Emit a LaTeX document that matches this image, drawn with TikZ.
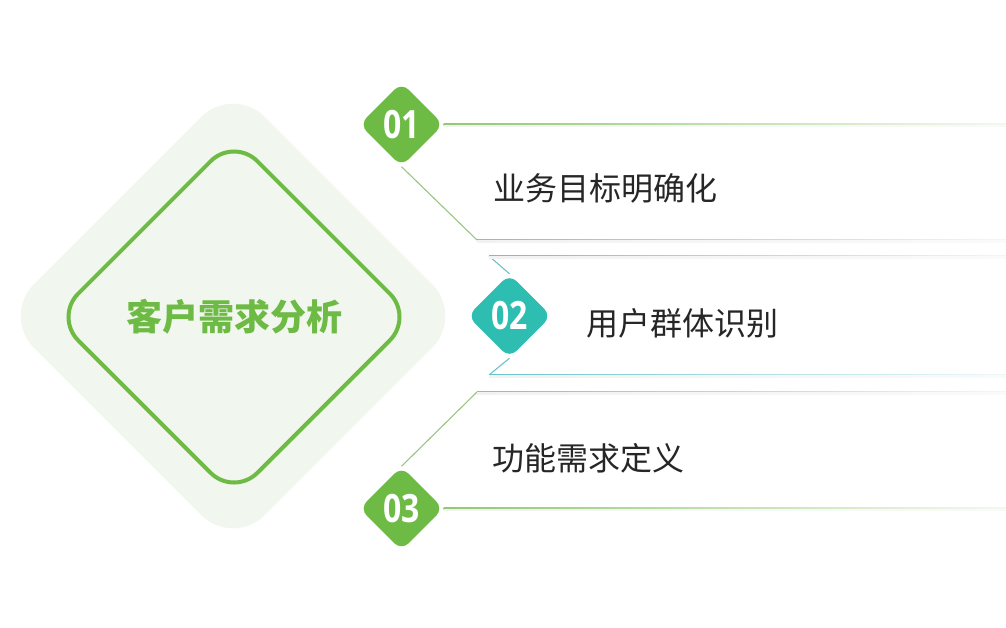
\documentclass[tikz,border=0pt]{standalone}
\usepackage{fontspec}
\setmainfont{Open Sans}
\newfontfamily\cjk{Noto Sans CJK SC}
\usetikzlibrary{shapes.geometric,calc}
\definecolor{gmain}{HTML}{6DBA45}
\definecolor{gbg}{HTML}{F1F7EE}
\definecolor{tmain}{HTML}{2DBEB1}
\definecolor{gline}{HTML}{92C970}
\definecolor{tline}{HTML}{6BC4CB}
\definecolor{dline}{HTML}{9DC384}
\definecolor{txtc}{HTML}{262626}
\pgfdeclarelayer{bg}
\pgfdeclarelayer{lines}
\pgfsetlayers{bg,lines,main}
\tikzset{
  badge/.style={diamond, aspect=1, minimum size=84pt, inner sep=0pt, rounded corners=10pt,
    text=white, font=\bfseries\fontsize{39}{39}\selectfont},
  itemtext/.style={text=txtc, font=\cjk\fontsize{32}{32}\selectfont, inner sep=0pt},
  diag/.style={line width=1.1pt},
}
\newcommand{\fadeline}[3]{% from, to, color
  \shade[left color=#3, right color=#3!12] ($(#1)+(0,-0.8)$) rectangle ($(#2)+(0,0.8)$);
  \shade[left color=black!5, right color=black!2] ($(#1)+(0,0.8)$) rectangle ($(#2)+(0,2.0)$);
}
\begin{document}
\begin{tikzpicture}[x=1pt,y=-1pt]
\useasboundingbox (0,0) rectangle (1006,627);
\begin{pgfonlayer}{bg}
\fill[white] (0,0) rectangle (1006,627);
\end{pgfonlayer}
% central diamonds
\node[diamond, aspect=1, minimum size=462pt, inner sep=0pt, rounded corners=45pt, fill=gbg] (outer) at (233,316) {};
\node[diamond, aspect=1, minimum size=360pt, inner sep=0pt, rounded corners=33pt, draw=gmain, line width=4pt,
  text=gmain, font=\cjk\bfseries\fontsize{36}{36}\selectfont] (core) at (234,317) {客户需求分析};
% badges
\node[badge, fill=gmain] (b1) at (401.5,124.5) {\scalebox{0.82}[1]{01}};
\node[badge, fill=tmain] (b2) at (509.5,316) {\scalebox{0.82}[1]{02}};
\node[badge, fill=gmain] (b3) at (401.5,508.5) {\scalebox{0.82}[1]{03}};
% item texts
\node[itemtext] (t1) at (605,188) {业务目标明确化};
\node[itemtext] (t2) at (682,323) {用户群体识别};
\node[itemtext] (t3) at (588,458) {功能需求定义};
% corner / end coordinates
\coordinate (e1a) at (1006,124.5);
\coordinate (c1) at (477,240);
\coordinate (e1b) at (1006,240);
\coordinate (c2a) at (489,256);
\coordinate (e2a) at (1006,256);
\coordinate (c2b) at (489,375);
\coordinate (e2b) at (1006,375);
\coordinate (c3) at (477,392);
\coordinate (e3b) at (1006,392);
\coordinate (e3a) at (1006,508.5);
\begin{pgfonlayer}{lines}
\fadeline{b1.east}{e1a}{gline}
\draw[diag, dline] (b1.south) -- (c1);
\fadeline{c1}{e1b}{gline}
\draw[diag, tline] (b2.north) -- (c2a);
\fadeline{c2a}{e2a}{tline}
\draw[diag, tline] (b2.south) -- (c2b);
\fadeline{c2b}{e2b}{tline}
\draw[diag, dline] (b3.north) -- (c3);
\fadeline{c3}{e3b}{gline}
\fadeline{b3.east}{e3a}{gline}
\end{pgfonlayer}
\end{tikzpicture}
\end{document}
